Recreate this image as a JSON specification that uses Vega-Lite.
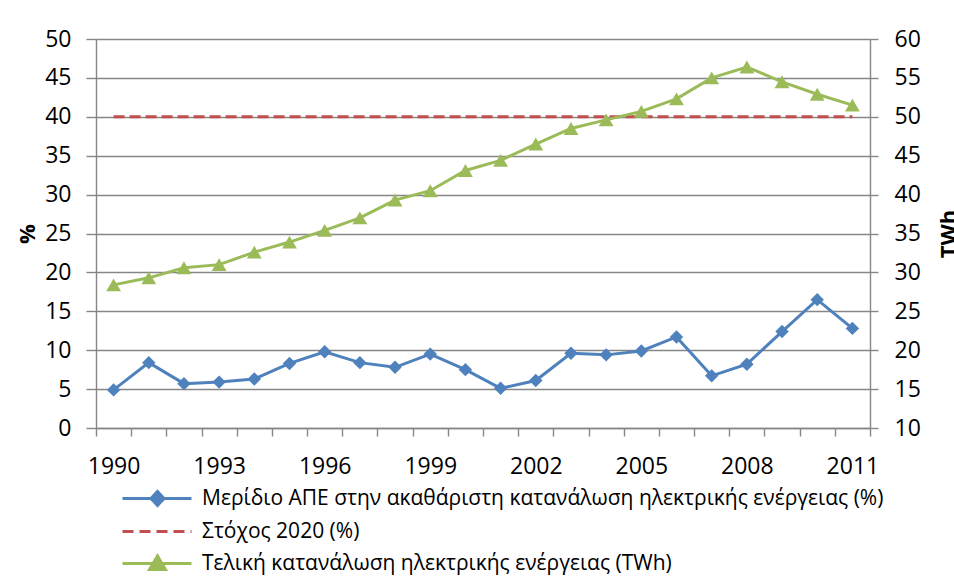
{
  "$schema": "https://vega.github.io/schema/vega-lite/v6.json",
  "width": 774,
  "height": 389,
  "autosize": "none",
  "padding": {"left": 96, "top": 39, "right": 84, "bottom": 152},
  "background": "white",
  "config": {
    "font": "Open Sans",
    "view": {"stroke": null},
    "axis": {
      "labelFont": "Open Sans",
      "labelFontSize": 23,
      "labelColor": "#000000",
      "domainColor": "#868686",
      "domainWidth": 1.4,
      "tickColor": "#868686",
      "tickWidth": 1.4,
      "gridColor": "#868686",
      "gridWidth": 1.4,
      "titleFont": "Open Sans",
      "titleFontSize": 22,
      "titleFontWeight": "bold",
      "titleColor": "#000000"
    }
  },
  "datasets": {
    "share": [
      {"year": 1990, "series": "Μερίδιο ΑΠΕ στην ακαθάριστη κατανάλωση ηλεκτρικής ενέργειας (%)", "value": 4.9},
      {"year": 1991, "series": "Μερίδιο ΑΠΕ στην ακαθάριστη κατανάλωση ηλεκτρικής ενέργειας (%)", "value": 8.4},
      {"year": 1992, "series": "Μερίδιο ΑΠΕ στην ακαθάριστη κατανάλωση ηλεκτρικής ενέργειας (%)", "value": 5.7},
      {"year": 1993, "series": "Μερίδιο ΑΠΕ στην ακαθάριστη κατανάλωση ηλεκτρικής ενέργειας (%)", "value": 5.9},
      {"year": 1994, "series": "Μερίδιο ΑΠΕ στην ακαθάριστη κατανάλωση ηλεκτρικής ενέργειας (%)", "value": 6.3},
      {"year": 1995, "series": "Μερίδιο ΑΠΕ στην ακαθάριστη κατανάλωση ηλεκτρικής ενέργειας (%)", "value": 8.3},
      {"year": 1996, "series": "Μερίδιο ΑΠΕ στην ακαθάριστη κατανάλωση ηλεκτρικής ενέργειας (%)", "value": 9.8},
      {"year": 1997, "series": "Μερίδιο ΑΠΕ στην ακαθάριστη κατανάλωση ηλεκτρικής ενέργειας (%)", "value": 8.4},
      {"year": 1998, "series": "Μερίδιο ΑΠΕ στην ακαθάριστη κατανάλωση ηλεκτρικής ενέργειας (%)", "value": 7.8},
      {"year": 1999, "series": "Μερίδιο ΑΠΕ στην ακαθάριστη κατανάλωση ηλεκτρικής ενέργειας (%)", "value": 9.5},
      {"year": 2000, "series": "Μερίδιο ΑΠΕ στην ακαθάριστη κατανάλωση ηλεκτρικής ενέργειας (%)", "value": 7.5},
      {"year": 2001, "series": "Μερίδιο ΑΠΕ στην ακαθάριστη κατανάλωση ηλεκτρικής ενέργειας (%)", "value": 5.1},
      {"year": 2002, "series": "Μερίδιο ΑΠΕ στην ακαθάριστη κατανάλωση ηλεκτρικής ενέργειας (%)", "value": 6.1},
      {"year": 2003, "series": "Μερίδιο ΑΠΕ στην ακαθάριστη κατανάλωση ηλεκτρικής ενέργειας (%)", "value": 9.6},
      {"year": 2004, "series": "Μερίδιο ΑΠΕ στην ακαθάριστη κατανάλωση ηλεκτρικής ενέργειας (%)", "value": 9.4},
      {"year": 2005, "series": "Μερίδιο ΑΠΕ στην ακαθάριστη κατανάλωση ηλεκτρικής ενέργειας (%)", "value": 9.9},
      {"year": 2006, "series": "Μερίδιο ΑΠΕ στην ακαθάριστη κατανάλωση ηλεκτρικής ενέργειας (%)", "value": 11.7},
      {"year": 2007, "series": "Μερίδιο ΑΠΕ στην ακαθάριστη κατανάλωση ηλεκτρικής ενέργειας (%)", "value": 6.7},
      {"year": 2008, "series": "Μερίδιο ΑΠΕ στην ακαθάριστη κατανάλωση ηλεκτρικής ενέργειας (%)", "value": 8.2},
      {"year": 2009, "series": "Μερίδιο ΑΠΕ στην ακαθάριστη κατανάλωση ηλεκτρικής ενέργειας (%)", "value": 12.4},
      {"year": 2010, "series": "Μερίδιο ΑΠΕ στην ακαθάριστη κατανάλωση ηλεκτρικής ενέργειας (%)", "value": 16.5},
      {"year": 2011, "series": "Μερίδιο ΑΠΕ στην ακαθάριστη κατανάλωση ηλεκτρικής ενέργειας (%)", "value": 12.8}
    ],
    "target": [
      {"year": 1990, "series": "Στόχος 2020 (%)", "value": 40},
      {"year": 1991, "series": "Στόχος 2020 (%)", "value": 40},
      {"year": 1992, "series": "Στόχος 2020 (%)", "value": 40},
      {"year": 1993, "series": "Στόχος 2020 (%)", "value": 40},
      {"year": 1994, "series": "Στόχος 2020 (%)", "value": 40},
      {"year": 1995, "series": "Στόχος 2020 (%)", "value": 40},
      {"year": 1996, "series": "Στόχος 2020 (%)", "value": 40},
      {"year": 1997, "series": "Στόχος 2020 (%)", "value": 40},
      {"year": 1998, "series": "Στόχος 2020 (%)", "value": 40},
      {"year": 1999, "series": "Στόχος 2020 (%)", "value": 40},
      {"year": 2000, "series": "Στόχος 2020 (%)", "value": 40},
      {"year": 2001, "series": "Στόχος 2020 (%)", "value": 40},
      {"year": 2002, "series": "Στόχος 2020 (%)", "value": 40},
      {"year": 2003, "series": "Στόχος 2020 (%)", "value": 40},
      {"year": 2004, "series": "Στόχος 2020 (%)", "value": 40},
      {"year": 2005, "series": "Στόχος 2020 (%)", "value": 40},
      {"year": 2006, "series": "Στόχος 2020 (%)", "value": 40},
      {"year": 2007, "series": "Στόχος 2020 (%)", "value": 40},
      {"year": 2008, "series": "Στόχος 2020 (%)", "value": 40},
      {"year": 2009, "series": "Στόχος 2020 (%)", "value": 40},
      {"year": 2010, "series": "Στόχος 2020 (%)", "value": 40},
      {"year": 2011, "series": "Στόχος 2020 (%)", "value": 40}
    ],
    "consumption": [
      {"year": 1990, "series": "Τελική κατανάλωση ηλεκτρικής ενέργειας (TWh)", "value": 28.4},
      {"year": 1991, "series": "Τελική κατανάλωση ηλεκτρικής ενέργειας (TWh)", "value": 29.3},
      {"year": 1992, "series": "Τελική κατανάλωση ηλεκτρικής ενέργειας (TWh)", "value": 30.6},
      {"year": 1993, "series": "Τελική κατανάλωση ηλεκτρικής ενέργειας (TWh)", "value": 31.0},
      {"year": 1994, "series": "Τελική κατανάλωση ηλεκτρικής ενέργειας (TWh)", "value": 32.6},
      {"year": 1995, "series": "Τελική κατανάλωση ηλεκτρικής ενέργειας (TWh)", "value": 33.9},
      {"year": 1996, "series": "Τελική κατανάλωση ηλεκτρικής ενέργειας (TWh)", "value": 35.4},
      {"year": 1997, "series": "Τελική κατανάλωση ηλεκτρικής ενέργειας (TWh)", "value": 37.0},
      {"year": 1998, "series": "Τελική κατανάλωση ηλεκτρικής ενέργειας (TWh)", "value": 39.3},
      {"year": 1999, "series": "Τελική κατανάλωση ηλεκτρικής ενέργειας (TWh)", "value": 40.5},
      {"year": 2000, "series": "Τελική κατανάλωση ηλεκτρικής ενέργειας (TWh)", "value": 43.1},
      {"year": 2001, "series": "Τελική κατανάλωση ηλεκτρικής ενέργειας (TWh)", "value": 44.4},
      {"year": 2002, "series": "Τελική κατανάλωση ηλεκτρικής ενέργειας (TWh)", "value": 46.5},
      {"year": 2003, "series": "Τελική κατανάλωση ηλεκτρικής ενέργειας (TWh)", "value": 48.5},
      {"year": 2004, "series": "Τελική κατανάλωση ηλεκτρικής ενέργειας (TWh)", "value": 49.6},
      {"year": 2005, "series": "Τελική κατανάλωση ηλεκτρικής ενέργειας (TWh)", "value": 50.7},
      {"year": 2006, "series": "Τελική κατανάλωση ηλεκτρικής ενέργειας (TWh)", "value": 52.3},
      {"year": 2007, "series": "Τελική κατανάλωση ηλεκτρικής ενέργειας (TWh)", "value": 55.0},
      {"year": 2008, "series": "Τελική κατανάλωση ηλεκτρικής ενέργειας (TWh)", "value": 56.4},
      {"year": 2009, "series": "Τελική κατανάλωση ηλεκτρικής ενέργειας (TWh)", "value": 54.5},
      {"year": 2010, "series": "Τελική κατανάλωση ηλεκτρικής ενέργειας (TWh)", "value": 52.9},
      {"year": 2011, "series": "Τελική κατανάλωση ηλεκτρικής ενέργειας (TWh)", "value": 51.5}
    ]
  },
  "encoding": {
    "x": {
      "field": "year",
      "type": "ordinal",
      "scale": {"type": "band", "paddingInner": 0, "paddingOuter": 0},
      "axis": {
        "title": null,
        "labelAngle": 0,
        "tickBand": "extent",
        "tickSize": 8,
        "labelPadding": 19,
        "labelExpr": "(datum.value - 1990) % 3 === 0 ? datum.label : ''"
      }
    }
  },
  "layer": [
    {
      "encoding": {
        "y": {
          "field": "value",
          "type": "quantitative",
          "scale": {"domain": [0, 50], "nice": false, "zero": false},
          "axis": {
            "title": "%",
            "values": [0, 5, 10, 15, 20, 25, 30, 35, 40, 45, 50],
            "grid": true,
            "tickSize": 10,
            "labelPadding": 15,
            "titlePadding": 5
          }
        }
      },
      "layer": [
        {
          "data": {"name": "share"},
          "mark": {"type": "line", "strokeWidth": 3},
          "encoding": {
            "color": {
              "field": "series",
              "type": "nominal",
              "scale": {
                "domain": [
                  "Μερίδιο ΑΠΕ στην ακαθάριστη κατανάλωση ηλεκτρικής ενέργειας (%)",
                  "Στόχος 2020 (%)",
                  "Τελική κατανάλωση ηλεκτρικής ενέργειας (TWh)"
                ],
                "range": ["#4F81BD", "#C0504D", "#9BBB59"]
              },
              "legend": {
                "orient": "none",
                "legendX": 25,
                "legendY": 448,
                "direction": "vertical",
                "title": null,
                "padding": 0,
                "labelFont": "Open Sans",
                "labelFontSize": 21,
                "labelColor": "#000000",
                "labelLimit": 900,
                "labelOffset": 58,
                "rowPadding": 8,
                "symbolSize": 400,
                "symbolStrokeWidth": 3,
                "symbolType": "M-1,0H5.9",
                "encode": {
                  "symbols": {
                    "update": {
                      "shape": {"signal": "datum.value === 'Στόχος 2020 (%)' ? 'M-1,0H5.9' : (datum.value === 'Μερίδιο ΑΠΕ στην ακαθάριστη κατανάλωση ηλεκτρικής ενέργειας (%)' ? 'M-1,0H5.9M1.85,0L2.5,-0.7L3.15,0L2.5,0.7Z' : 'M-1,0H5.9M2.5,-0.75L3.3,0.6L1.7,0.6Z')"},
                      "strokeDash": {"signal": "datum.value === 'Στόχος 2020 (%)' ? [11, 6] : [1, 0]"},
                      "fill": {"signal": "datum.value === 'Στόχος 2020 (%)' ? '#C0504D' : (datum.value === 'Μερίδιο ΑΠΕ στην ακαθάριστη κατανάλωση ηλεκτρικής ενέργειας (%)' ? '#4F81BD' : '#9BBB59')"},
                      "stroke": {"signal": "datum.value === 'Στόχος 2020 (%)' ? '#C0504D' : (datum.value === 'Μερίδιο ΑΠΕ στην ακαθάριστη κατανάλωση ηλεκτρικής ενέργειας (%)' ? '#4F81BD' : '#9BBB59')"},
                      "opacity": {"value": 1}
                    }
                  }
                }
              }
            }
          }
        },
        {
          "data": {"name": "share"},
          "mark": {"type": "point", "shape": "diamond", "filled": true, "size": 180, "opacity": 1, "color": "#4F81BD"}
        },
        {
          "data": {"name": "target"},
          "mark": {"type": "line", "strokeWidth": 3, "strokeDash": [11, 5], "color": "#C0504D"}
        }
      ]
    },
    {
      "data": {"name": "consumption"},
      "encoding": {
        "y": {
          "field": "value",
          "type": "quantitative",
          "scale": {"domain": [10, 60], "nice": false, "zero": false},
          "axis": {
            "title": "TWh",
            "orient": "right",
            "values": [10, 15, 20, 25, 30, 35, 40, 45, 50, 55, 60],
            "grid": false,
            "tickSize": 8,
            "labelPadding": 16,
            "titlePadding": 40,
            "titleAngle": -90
          }
        }
      },
      "layer": [
        {"mark": {"type": "line", "strokeWidth": 3, "color": "#9BBB59"}},
        {"mark": {"type": "point", "shape": "triangle-up", "filled": true, "size": 220, "opacity": 1, "color": "#9BBB59"}}
      ]
    }
  ],
  "resolve": {"scale": {"y": "independent"}}
}
